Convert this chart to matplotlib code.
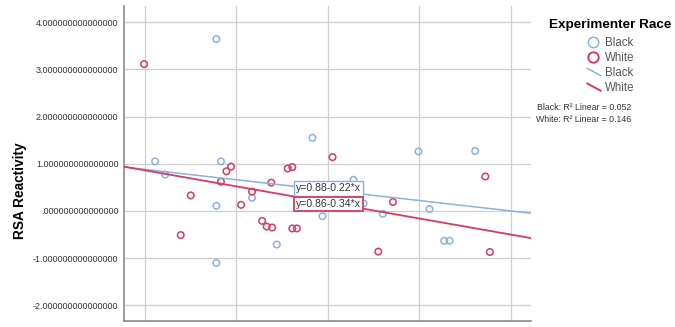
import matplotlib
matplotlib.use("Agg")
import matplotlib.pyplot as plt
from matplotlib.lines import Line2D
from matplotlib.legend_handler import HandlerLine2D
import numpy as np

plt.rcParams["font.family"] = ["Liberation Sans", "DejaVu Sans"]

# scatter data
black_x = [0.78, 0.11, 0.83, 0.22, 0.78, 0.78, 1.17, 1.44, 1.83, 1.94,
           2.28, 2.39, 2.60, 2.99, 3.11, 3.27, 3.33, 3.61]
black_y = [3.64, 1.05, 1.05, 0.77, 0.11, -1.10, 0.28, -0.71, 1.55, -0.11,
           0.66, 0.16, -0.06, 1.26, 0.04, -0.63, -0.63, 1.27]
white_x = [-0.01, 0.94, 0.89, 0.83, 0.50, 0.39, 1.05, 1.17, 1.38, 1.28, 1.33,
           1.39, 1.56, 1.61, 1.61, 1.66, 2.05, 2.55, 2.71, 3.72, 3.77]
white_y = [3.11, 0.94, 0.84, 0.62, 0.33, -0.51, 0.13, 0.41, 0.60, -0.21, -0.33,
           -0.35, 0.90, 0.93, -0.37, -0.37, 1.14, -0.86, 0.19, 0.73, -0.87]

# linear fits as printed on the chart
black_fit = (0.88, -0.22)
white_fit = (0.86, -0.34)
black_r2 = 0.052
white_r2 = 0.146

y_ticks = [-2, -1, 0, 1, 2, 3, 4]
x_grid = [0, 1, 2, 3, 4]

BLUE = "#8bb1dd"
RED = "#d53c63"
XLIM = (-0.23, 4.22)
YLIM = (-2.33, 4.34)


def tick_label(v):
    s = f"{v:.15f}"
    return s.replace("0.", ".", 1) if v == 0 else s


class DiagHandler(HandlerLine2D):
    # short diagonal stroke like the SPSS legend
    def create_artists(self, legend, orig_handle, xdescent, ydescent,
                       width, height, fontsize, trans):
        x0, x1 = -xdescent + width * 0.1, -xdescent + width
        ln = Line2D([x0, x1], [height * 0.95, height * 0.05],
                    color=orig_handle.get_color(), lw=orig_handle.get_linewidth())
        ln.set_transform(trans)
        return [ln]


fig = plt.figure(figsize=(6.75, 3.27), dpi=100)
ax = fig.add_axes([124 / 675, 1 - 321 / 327, 407 / 675, 315 / 327])

ax.scatter(black_x, black_y, s=22, facecolors="none", edgecolors=BLUE, linewidths=1.1, zorder=3)
ax.scatter(white_x, white_y, s=22, facecolors="none", edgecolors=RED, linewidths=1.1, zorder=3)

xs = np.array(XLIM)
ax.plot(xs, black_fit[0] + black_fit[1] * xs, color=BLUE, lw=1.1, zorder=4)
ax.plot(xs, white_fit[0] + white_fit[1] * xs, color=RED, lw=1.3, zorder=4)

ax.text(1.65, 0.48, f"y={black_fit[0]:.2f}{black_fit[1]:.2f}*x", fontsize=7.6, color="#333333",
        va="center", ha="left", zorder=5,
        bbox=dict(boxstyle="square,pad=0.22", fc="white", ec=BLUE, lw=1.0))
ax.text(1.65, 0.15, f"y={white_fit[0]:.2f}{white_fit[1]:.2f}*x", fontsize=7.6, color="#333333",
        va="center", ha="left", zorder=6,
        bbox=dict(boxstyle="square,pad=0.22", fc="white", ec=RED, lw=1.3))

ax.set_xlim(*XLIM)
ax.set_ylim(*YLIM)
ax.set_yticks(y_ticks)
ax.set_yticklabels([tick_label(v) for v in y_ticks], fontsize=6.5, color="#333333")
ax.set_xticks(x_grid)
ax.set_xticklabels([])
ax.tick_params(length=0, pad=4)
ax.grid(True, color="#cfcfcf", lw=0.9)
ax.set_axisbelow(True)
for side in ("top", "right"):
    ax.spines[side].set_visible(False)
for side in ("left", "bottom"):
    ax.spines[side].set_color("#8a8a8a")
    ax.spines[side].set_linewidth(1.2)

ax.set_ylabel("RSA Reactivity", fontsize=9.8, fontweight="bold")
ax.yaxis.set_label_coords(-0.238, 0.415)

handles = [
    Line2D([], [], ls="none", marker="o", mfc="none", mec=BLUE, ms=7.5, mew=1.1),
    Line2D([], [], ls="none", marker="o", mfc="none", mec=RED, ms=7.5, mew=1.4),
    Line2D([], [], color=BLUE, lw=1.1),
    Line2D([], [], color=RED, lw=1.4),
]
leg = fig.legend(handles, ["Black", "White", "Black", "White"],
                 title="Experimenter Race", loc="upper center",
                 bbox_to_anchor=(610 / 675, 1 - 13.5 / 327), frameon=False,
                 fontsize=8.3, labelspacing=0.27, handlelength=1.3, handletextpad=0.35,
                 borderpad=0, handler_map={handles[2]: DiagHandler(), handles[3]: DiagHandler()})
leg.get_title().set_fontweight("bold")
leg.get_title().set_fontsize(9.7)
leg._legend_box.sep = 4
for t in leg.get_texts():
    t.set_color("#555555")

fig.text(631 / 675, 1 - 108 / 327, f"Black: R² Linear = {black_r2:.3f}", fontsize=6.3,
         ha="right", va="center", color="#333333")
fig.text(631 / 675, 1 - 120 / 327, f"White: R² Linear = {white_r2:.3f}", fontsize=6.3,
         ha="right", va="center", color="#333333")

fig.savefig("out.png", dpi=100)
